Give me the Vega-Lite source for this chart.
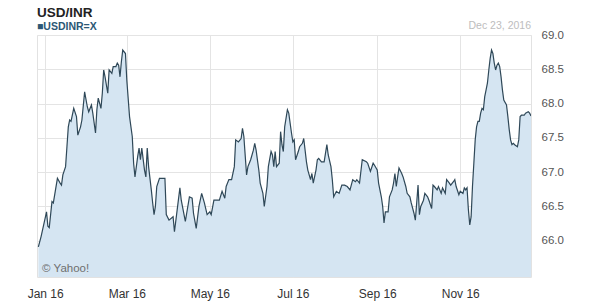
{
  "$schema": "https://vega.github.io/schema/vega-lite/v6.json",
  "width": 494,
  "height": 242,
  "autosize": {"type": "none"},
  "padding": {"left": 37, "top": 35, "right": 69, "bottom": 27},
  "background": "white",
  "title": {
    "text": "USD/INR",
    "subtitle": "■USDINR=X",
    "anchor": "start",
    "frame": "group",
    "font": "Liberation Sans",
    "fontSize": 13.5,
    "fontWeight": "bold",
    "color": "#222222",
    "subtitleFont": "Liberation Sans",
    "subtitleFontSize": 10.5,
    "subtitleFontWeight": "bold",
    "subtitleColor": "#2b5775",
    "subtitlePadding": 2,
    "offset": -11
  },
  "config": {
    "font": "Liberation Sans",
    "view": {"stroke": "#e2e2e2"},
    "axis": {"gridColor": "#e4e4e4", "gridWidth": 1, "ticks": false, "domain": false, "title": null, "zindex": 1, "labelFont": "Liberation Sans"}
  },
  "datasets": {
    "fx": [
      {"d": "2015-12-27", "v": 65.91}, {"d": "2015-12-29", "v": 66.06}, {"d": "2016-01-02", "v": 66.42},
      {"d": "2016-01-03", "v": 66.21}, {"d": "2016-01-04", "v": 66.19}, {"d": "2016-01-06", "v": 66.57},
      {"d": "2016-01-07", "v": 66.55}, {"d": "2016-01-10", "v": 66.91}, {"d": "2016-01-12", "v": 66.84},
      {"d": "2016-01-13", "v": 66.81}, {"d": "2016-01-14", "v": 66.96}, {"d": "2016-01-16", "v": 67.08},
      {"d": "2016-01-17", "v": 67.37}, {"d": "2016-01-18", "v": 67.66}, {"d": "2016-01-19", "v": 67.76},
      {"d": "2016-01-20", "v": 67.74}, {"d": "2016-01-22", "v": 67.93}, {"d": "2016-01-24", "v": 67.81},
      {"d": "2016-01-25", "v": 67.54}, {"d": "2016-01-27", "v": 67.66}, {"d": "2016-01-28", "v": 67.76},
      {"d": "2016-01-30", "v": 68.17}, {"d": "2016-02-01", "v": 67.95}, {"d": "2016-02-02", "v": 67.88},
      {"d": "2016-02-04", "v": 67.98}, {"d": "2016-02-05", "v": 67.86}, {"d": "2016-02-07", "v": 67.57},
      {"d": "2016-02-08", "v": 67.91}, {"d": "2016-02-09", "v": 68.08}, {"d": "2016-02-11", "v": 67.93},
      {"d": "2016-02-12", "v": 68.15}, {"d": "2016-02-13", "v": 68.49}, {"d": "2016-02-14", "v": 68.39},
      {"d": "2016-02-16", "v": 68.15}, {"d": "2016-02-17", "v": 68.49}, {"d": "2016-02-19", "v": 68.44},
      {"d": "2016-02-20", "v": 68.54}, {"d": "2016-02-22", "v": 68.54}, {"d": "2016-02-23", "v": 68.59},
      {"d": "2016-02-24", "v": 68.56}, {"d": "2016-02-25", "v": 68.39}, {"d": "2016-02-26", "v": 68.61},
      {"d": "2016-02-27", "v": 68.78}, {"d": "2016-02-29", "v": 68.73}, {"d": "2016-03-01", "v": 68.34},
      {"d": "2016-03-03", "v": 67.81}, {"d": "2016-03-05", "v": 67.52}, {"d": "2016-03-06", "v": 67.13},
      {"d": "2016-03-07", "v": 66.93}, {"d": "2016-03-09", "v": 67.23}, {"d": "2016-03-10", "v": 67.35},
      {"d": "2016-03-11", "v": 67.18}, {"d": "2016-03-12", "v": 67.35}, {"d": "2016-03-14", "v": 67.03},
      {"d": "2016-03-15", "v": 66.93}, {"d": "2016-03-16", "v": 67.35}, {"d": "2016-03-17", "v": 67.08},
      {"d": "2016-03-19", "v": 66.74}, {"d": "2016-03-20", "v": 66.55}, {"d": "2016-03-21", "v": 66.38},
      {"d": "2016-03-22", "v": 66.5}, {"d": "2016-03-23", "v": 66.79}, {"d": "2016-03-25", "v": 66.91},
      {"d": "2016-03-28", "v": 66.91}, {"d": "2016-03-29", "v": 66.91}, {"d": "2016-03-30", "v": 66.38},
      {"d": "2016-04-01", "v": 66.3}, {"d": "2016-04-04", "v": 66.35}, {"d": "2016-04-05", "v": 66.13},
      {"d": "2016-04-07", "v": 66.45}, {"d": "2016-04-09", "v": 66.77}, {"d": "2016-04-10", "v": 66.59},
      {"d": "2016-04-13", "v": 66.28}, {"d": "2016-04-14", "v": 66.4}, {"d": "2016-04-16", "v": 66.64},
      {"d": "2016-04-18", "v": 66.62}, {"d": "2016-04-19", "v": 66.4}, {"d": "2016-04-21", "v": 66.18},
      {"d": "2016-04-23", "v": 66.5}, {"d": "2016-04-25", "v": 66.69}, {"d": "2016-04-27", "v": 66.55},
      {"d": "2016-04-29", "v": 66.38}, {"d": "2016-05-01", "v": 66.42}, {"d": "2016-05-02", "v": 66.38},
      {"d": "2016-05-04", "v": 66.59}, {"d": "2016-05-06", "v": 66.59}, {"d": "2016-05-08", "v": 66.59},
      {"d": "2016-05-10", "v": 66.72}, {"d": "2016-05-12", "v": 66.62}, {"d": "2016-05-13", "v": 66.79},
      {"d": "2016-05-15", "v": 66.89}, {"d": "2016-05-17", "v": 66.89}, {"d": "2016-05-19", "v": 67.08},
      {"d": "2016-05-20", "v": 67.47}, {"d": "2016-05-22", "v": 67.44}, {"d": "2016-05-24", "v": 67.49},
      {"d": "2016-05-25", "v": 67.64}, {"d": "2016-05-26", "v": 67.52}, {"d": "2016-05-28", "v": 66.96},
      {"d": "2016-05-29", "v": 67.08}, {"d": "2016-05-31", "v": 67.18}, {"d": "2016-06-02", "v": 67.32},
      {"d": "2016-06-03", "v": 67.42}, {"d": "2016-06-04", "v": 67.32}, {"d": "2016-06-06", "v": 67.03},
      {"d": "2016-06-07", "v": 66.84}, {"d": "2016-06-09", "v": 66.69}, {"d": "2016-06-10", "v": 66.5},
      {"d": "2016-06-12", "v": 66.79}, {"d": "2016-06-13", "v": 67.08}, {"d": "2016-06-15", "v": 67.3},
      {"d": "2016-06-16", "v": 67.25}, {"d": "2016-06-17", "v": 67.08}, {"d": "2016-06-18", "v": 67.3},
      {"d": "2016-06-19", "v": 67.08}, {"d": "2016-06-21", "v": 67.13}, {"d": "2016-06-22", "v": 67.59},
      {"d": "2016-06-23", "v": 67.4}, {"d": "2016-06-24", "v": 67.3}, {"d": "2016-06-25", "v": 67.66},
      {"d": "2016-06-27", "v": 67.91}, {"d": "2016-06-28", "v": 67.86}, {"d": "2016-06-30", "v": 67.57},
      {"d": "2016-07-01", "v": 67.44}, {"d": "2016-07-02", "v": 67.47}, {"d": "2016-07-03", "v": 67.18},
      {"d": "2016-07-05", "v": 67.3}, {"d": "2016-07-06", "v": 67.37}, {"d": "2016-07-08", "v": 67.42},
      {"d": "2016-07-09", "v": 67.49}, {"d": "2016-07-11", "v": 67.15}, {"d": "2016-07-12", "v": 67.03},
      {"d": "2016-07-14", "v": 66.89}, {"d": "2016-07-15", "v": 66.98}, {"d": "2016-07-16", "v": 66.84},
      {"d": "2016-07-18", "v": 67.03}, {"d": "2016-07-19", "v": 67.18}, {"d": "2016-07-20", "v": 67.2},
      {"d": "2016-07-22", "v": 67.15}, {"d": "2016-07-24", "v": 67.15}, {"d": "2016-07-26", "v": 67.4},
      {"d": "2016-07-27", "v": 67.25}, {"d": "2016-07-29", "v": 67.08}, {"d": "2016-07-30", "v": 66.89},
      {"d": "2016-07-31", "v": 66.64}, {"d": "2016-08-02", "v": 66.72}, {"d": "2016-08-04", "v": 66.69},
      {"d": "2016-08-06", "v": 66.81}, {"d": "2016-08-08", "v": 66.81}, {"d": "2016-08-10", "v": 66.79},
      {"d": "2016-08-12", "v": 66.74}, {"d": "2016-08-14", "v": 66.89}, {"d": "2016-08-16", "v": 66.86},
      {"d": "2016-08-17", "v": 66.89}, {"d": "2016-08-19", "v": 66.84}, {"d": "2016-08-21", "v": 67.18},
      {"d": "2016-08-24", "v": 67.15}, {"d": "2016-08-25", "v": 67.13}, {"d": "2016-08-27", "v": 67.01},
      {"d": "2016-08-29", "v": 67.13}, {"d": "2016-08-30", "v": 67.1}, {"d": "2016-09-01", "v": 67.03},
      {"d": "2016-09-02", "v": 66.84}, {"d": "2016-09-04", "v": 66.64}, {"d": "2016-09-05", "v": 66.5},
      {"d": "2016-09-06", "v": 66.26}, {"d": "2016-09-07", "v": 66.42}, {"d": "2016-09-09", "v": 66.42},
      {"d": "2016-09-10", "v": 66.64}, {"d": "2016-09-12", "v": 66.74}, {"d": "2016-09-13", "v": 66.84},
      {"d": "2016-09-14", "v": 66.98}, {"d": "2016-09-15", "v": 66.79}, {"d": "2016-09-16", "v": 66.93},
      {"d": "2016-09-17", "v": 67.06}, {"d": "2016-09-19", "v": 66.98}, {"d": "2016-09-20", "v": 66.93},
      {"d": "2016-09-22", "v": 66.79}, {"d": "2016-09-23", "v": 66.69}, {"d": "2016-09-25", "v": 66.64},
      {"d": "2016-09-26", "v": 66.55}, {"d": "2016-09-28", "v": 66.4}, {"d": "2016-09-29", "v": 66.3},
      {"d": "2016-09-30", "v": 66.55}, {"d": "2016-10-01", "v": 66.81}, {"d": "2016-10-02", "v": 66.38},
      {"d": "2016-10-03", "v": 66.5}, {"d": "2016-10-05", "v": 66.59}, {"d": "2016-10-06", "v": 66.69},
      {"d": "2016-10-08", "v": 66.64}, {"d": "2016-10-09", "v": 66.59}, {"d": "2016-10-11", "v": 66.47},
      {"d": "2016-10-12", "v": 66.81}, {"d": "2016-10-13", "v": 66.79}, {"d": "2016-10-15", "v": 66.74},
      {"d": "2016-10-16", "v": 66.79}, {"d": "2016-10-18", "v": 66.69}, {"d": "2016-10-19", "v": 66.77},
      {"d": "2016-10-21", "v": 66.69}, {"d": "2016-10-22", "v": 66.89}, {"d": "2016-10-24", "v": 66.84},
      {"d": "2016-10-25", "v": 66.81}, {"d": "2016-10-27", "v": 66.86}, {"d": "2016-10-28", "v": 66.89},
      {"d": "2016-10-29", "v": 66.79}, {"d": "2016-10-31", "v": 66.67}, {"d": "2016-11-01", "v": 66.72},
      {"d": "2016-11-03", "v": 66.69}, {"d": "2016-11-04", "v": 66.77}, {"d": "2016-11-05", "v": 66.74},
      {"d": "2016-11-06", "v": 66.77}, {"d": "2016-11-07", "v": 66.45}, {"d": "2016-11-08", "v": 66.23},
      {"d": "2016-11-09", "v": 66.35}, {"d": "2016-11-10", "v": 66.79}, {"d": "2016-11-11", "v": 67.13},
      {"d": "2016-11-12", "v": 67.47}, {"d": "2016-11-13", "v": 67.66}, {"d": "2016-11-14", "v": 67.74},
      {"d": "2016-11-15", "v": 67.74}, {"d": "2016-11-16", "v": 67.86}, {"d": "2016-11-17", "v": 67.93},
      {"d": "2016-11-18", "v": 67.91}, {"d": "2016-11-19", "v": 68.1}, {"d": "2016-11-20", "v": 68.2},
      {"d": "2016-11-21", "v": 68.3}, {"d": "2016-11-22", "v": 68.49}, {"d": "2016-11-23", "v": 68.66},
      {"d": "2016-11-24", "v": 68.78}, {"d": "2016-11-25", "v": 68.73}, {"d": "2016-11-26", "v": 68.59},
      {"d": "2016-11-27", "v": 68.49}, {"d": "2016-11-28", "v": 68.56}, {"d": "2016-11-29", "v": 68.59},
      {"d": "2016-11-30", "v": 68.54}, {"d": "2016-12-01", "v": 68.39}, {"d": "2016-12-02", "v": 68.2},
      {"d": "2016-12-03", "v": 68.05}, {"d": "2016-12-05", "v": 67.98}, {"d": "2016-12-06", "v": 67.81},
      {"d": "2016-12-07", "v": 67.62}, {"d": "2016-12-08", "v": 67.47}, {"d": "2016-12-09", "v": 67.4},
      {"d": "2016-12-10", "v": 67.42}, {"d": "2016-12-11", "v": 67.4}, {"d": "2016-12-13", "v": 67.37},
      {"d": "2016-12-14", "v": 67.47}, {"d": "2016-12-15", "v": 67.81}, {"d": "2016-12-16", "v": 67.83},
      {"d": "2016-12-18", "v": 67.83}, {"d": "2016-12-19", "v": 67.86}, {"d": "2016-12-21", "v": 67.88},
      {"d": "2016-12-22", "v": 67.86}, {"d": "2016-12-23", "v": 67.82}
    ],
    "notes": [
      {"label": "Dec 23, 2016", "d": "2016-12-23", "v": 69.0, "kind": "date"},
      {"label": "© Yahoo!", "d": "2015-12-29T18:00:00", "v": 65.55, "kind": "credit"}
    ]
  },
  "layer": [
    {
      "data": {"name": "fx"},
      "mark": {"type": "area", "color": "#d5e5f2", "clip": true},
      "encoding": {
        "x": {
          "field": "d", "type": "temporal",
          "scale": {"domain": ["2015-12-26", "2016-12-23"]},
          "axis": {"orient": "bottom", "format": "%b %y", "tickCount": {"interval": "month", "step": 2}, "labelFontSize": 12, "labelColor": "#333333", "labelPadding": 11, "labelFlush": false}
        },
        "y": {
          "field": "v", "type": "quantitative",
          "scale": {"domain": [65.47, 69.0], "zero": false, "nice": false},
          "axis": {"orient": "right", "values": [66, 66.5, 67, 67.5, 68, 68.5, 69], "format": ".1f", "labelFontSize": 11.5, "labelColor": "#555555", "labelPadding": 10}
        },
        "y2": {"datum": 65.47}
      }
    },
    {
      "data": {"name": "fx"},
      "mark": {"type": "line", "color": "#2f4858", "strokeWidth": 1.2, "clip": true},
      "encoding": {
        "x": {"field": "d", "type": "temporal"},
        "y": {"field": "v", "type": "quantitative"}
      }
    },
    {
      "data": {"name": "notes"},
      "transform": [{"filter": "datum.kind === 'date'"}],
      "mark": {"type": "text", "align": "right", "baseline": "alphabetic", "dy": -6, "font": "Liberation Sans", "fontSize": 10.5, "fontWeight": "normal", "color": "#bdbdbd"},
      "encoding": {
        "x": {"field": "d", "type": "temporal"},
        "y": {"field": "v", "type": "quantitative"},
        "text": {"field": "label"}
      }
    },
    {
      "data": {"name": "notes"},
      "transform": [{"filter": "datum.kind === 'credit'"}],
      "mark": {"type": "text", "align": "left", "baseline": "alphabetic", "font": "Liberation Sans", "fontSize": 11.5, "fontWeight": "normal", "color": "#6f6f6f"},
      "encoding": {
        "x": {"field": "d", "type": "temporal"},
        "y": {"field": "v", "type": "quantitative"},
        "text": {"field": "label"}
      }
    }
  ]
}
